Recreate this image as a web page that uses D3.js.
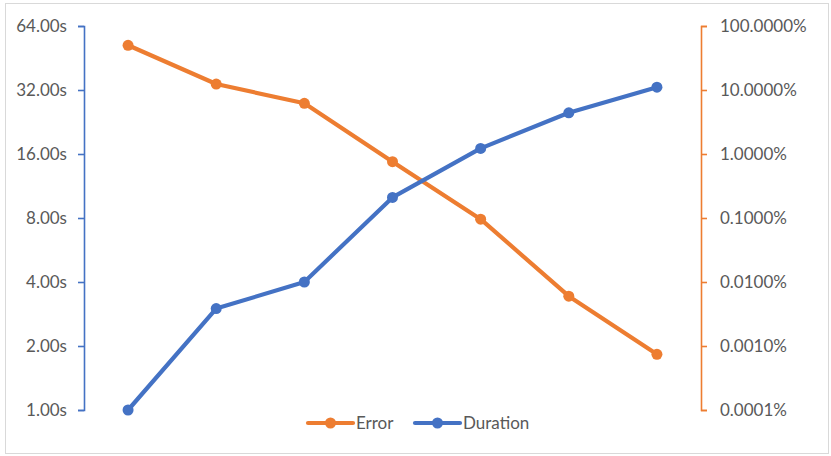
<!DOCTYPE html>
<html><head><meta charset="utf-8">
<script src="https://cdn.jsdelivr.net/npm/d3@7"></script>
<style>
html,body{margin:0;padding:0;background:#fff;}
svg{display:block;}
text{font-family:Lato,"Open Sans",sans-serif;fill:#595959;}
</style></head>
<body>
<svg id="chart" width="831" height="456"></svg>
<script>
const categories = ["1","2","3","4","5","6","7"];
const durationSeconds = [1, 3, 4, 10, 17, 25, 33];
const errorRate = [0.50, 0.124, 0.062, 0.0076, 0.00096, 0.000060, 0.0000074];
const leftTicks = [1, 2, 4, 8, 16, 32, 64];
const rightTicks = [0.000001, 0.00001, 0.0001, 0.001, 0.01, 0.1, 1];
const seriesNames = ["Error", "Duration"];

(function(){
const blue = "#4472C4", orange = "#ED7D31";
const fs = 17;
const svg = d3.select("#chart");
svg.append("rect").attr("x",5.5).attr("y",3.5).attr("width",823).attr("height",450)
  .attr("fill","#fff").attr("stroke","#d9d9d9").attr("stroke-width",1);

const pL = 84, pR = 701, pT = 26, pB = 410;
const x = d3.scalePoint().domain(categories).range([pL, pR]).padding(0.5);
const yL = d3.scaleLog().base(2).domain([1, 64]).range([pB, pT]);
const yR = d3.scaleLog().base(10).domain([0.000001, 1]).range([pB, pT]);

const fmtL = d => d3.format(".2f")(d) + "s";
const fmtR = d => d3.format(".4f")(d*100) + "%";

const axL = svg.append("g").attr("transform",`translate(${pL},0)`)
  .call(d3.axisLeft(yL).tickValues(leftTicks).tickFormat(fmtL).tickSize(6).tickPadding(11).tickSizeOuter(6));
axL.selectAll("path,line").attr("stroke", blue).attr("stroke-width",1.6);
axL.selectAll("text").attr("font-size",fs).attr("fill","#595959").attr("font-family","Lato");

const axR = svg.append("g").attr("transform",`translate(${pR},0)`)
  .call(d3.axisRight(yR).tickValues(rightTicks).tickFormat(fmtR).tickSize(6).tickPadding(13).tickSizeOuter(6));
axR.selectAll("path,line").attr("stroke", orange).attr("stroke-width",1.6);
axR.selectAll("text").attr("font-size",fs).attr("fill","#595959").attr("font-family","Lato");

function drawSeries(vals, yScale, color){
  const line = d3.line().x((d,i)=>x(categories[i])).y(d=>yScale(d));
  svg.append("path").datum(vals).attr("d",line).attr("fill","none")
    .attr("stroke",color).attr("stroke-width",4.2).attr("stroke-linejoin","round");
  svg.append("g").selectAll("circle").data(vals).join("circle")
    .attr("cx",(d,i)=>x(categories[i])).attr("cy",d=>yScale(d)).attr("r",5.5).attr("fill",color);
}
drawSeries(errorRate, yR, orange);
drawSeries(durationSeconds, yL, blue);

const legend = [
  {name: seriesNames[0], color: orange, x0: 308},
  {name: seriesNames[1], color: blue, x0: 415}
];
const ly = 423;
legend.forEach(l => {
  svg.append("line").attr("x1",l.x0).attr("x2",l.x0+45).attr("y1",ly).attr("y2",ly)
    .attr("stroke",l.color).attr("stroke-width",4.2).attr("stroke-linecap","round");
  svg.append("circle").attr("cx",l.x0+22.5).attr("cy",ly).attr("r",5.5).attr("fill",l.color);
  svg.append("text").attr("x",l.x0+48).attr("y",ly).attr("dy","0.35em")
    .attr("font-size",fs).text(l.name);
});
})();
</script>
</body></html>
